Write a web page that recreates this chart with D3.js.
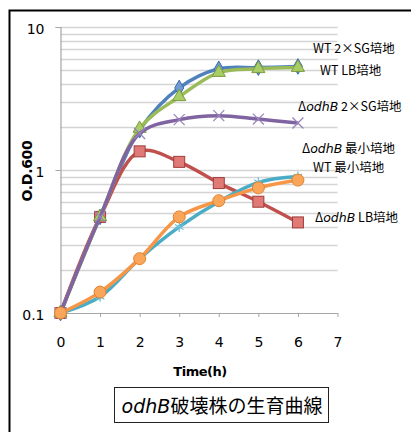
<!DOCTYPE html>
<html><head><meta charset="utf-8">
<script src="https://cdn.jsdelivr.net/npm/d3@7"></script>
<style>body{margin:0;background:#fff}svg{display:block}</style>
</head><body>
<script>
const times = [0,1,2,3,4,5,6];
const wt2sg = [0.1,0.47,1.9,3.75,5.1,5.2,5.3];
const dLB   = [0.1,0.47,1.35,1.14,0.81,0.6,0.43];
const wtLB  = [0.1,0.47,1.95,3.25,4.8,5.1,5.2];
const d2sg  = [0.1,0.47,1.8,2.25,2.4,2.27,2.13];
const wtMin = [0.1,0.13,0.24,0.4,0.6,0.82,0.9];
const dMin  = [0.1,0.14,0.24,0.47,0.61,0.75,0.85];
const xTicks = [0,1,2,3,4,5,6,7];
const yTicks = [0.1,1,10];
const yTickLabels = ["0.1","1","10"];

const W=411,H=432;
const svg=d3.select("body").append("svg").attr("width",W).attr("height",H);
svg.append("rect").attr("width",W).attr("height",H).attr("fill","#fff");
svg.append("rect").attr("x",9.5).attr("y",10.5).attr("width",430).attr("height",440)
  .attr("fill","none").attr("stroke","#000").attr("stroke-width",2);

const x=d3.scaleLinear().domain([0,7]).range([60.5,337.5]);
const y=d3.scaleLog().domain([0.1,10]).range([313,27]);

// gridlines
const grid=[];
[0.1,1].forEach(d=>{for(let k=1;k<=10;k++){grid.push(d*k);}});
const gridVals=Array.from(new Set(grid.map(v=>+v.toFixed(3)))).filter(v=>v>0.1);
svg.append("g").selectAll("line").data(gridVals).join("line")
  .attr("x1",x(0)).attr("x2",x(7)).attr("y1",d=>Math.round(y(d))+0.5).attr("y2",d=>Math.round(y(d))+0.5)
  .attr("stroke","#d4d4d4").attr("stroke-width",1.5);

// y axis
const yAxis=d3.axisLeft(y).tickValues(yTicks).tickFormat((d,i)=>yTickLabels[i]).tickSize(5).tickPadding(11);
const gy=svg.append("g").attr("transform",`translate(${x(0)},0)`).call(yAxis);
gy.select(".domain").attr("stroke","#a6a6a6").attr("stroke-width",1.2);
gy.selectAll(".tick line").attr("stroke","#a6a6a6");
gy.selectAll("text").attr("font-family","DejaVu Sans").attr("font-size",14).attr("fill","#000").attr("dy","0.45em");

// x axis
const xAxis=d3.axisBottom(x).tickValues(xTicks).tickFormat(d3.format("d")).tickSize(4).tickSizeOuter(0).tickPadding(20);
const gx=svg.append("g").attr("transform",`translate(0,${y(0.1)})`).call(xAxis);
gx.select(".domain").attr("stroke","#a6a6a6").attr("stroke-width",1.2);
gx.selectAll(".tick line").attr("stroke","#a6a6a6");
gx.selectAll("text").attr("font-family","DejaVu Sans").attr("font-size",14).attr("fill","#000");

// axis titles
svg.append("text").attr("x",200).attr("y",376).attr("text-anchor","middle")
  .attr("font-family","DejaVu Sans").attr("font-weight","bold").attr("font-size",13).attr("letter-spacing",-0.5).text("Time(h)");
svg.append("text").attr("transform","translate(32,171) rotate(-90)").attr("text-anchor","middle")
  .attr("font-family","DejaVu Sans").attr("font-weight","bold").attr("font-size",14).attr("letter-spacing",-0.3).text("O.D.600");

// series
const series=[
 {vals:wt2sg,color:"#4F81BD",stroke:"#3a6aa3",marker:"diamond"},
 {vals:dLB,color:"#C0504D",stroke:"#a03c39",marker:"square"},
 {vals:wtLB,color:"#9BBB59",stroke:"#7d9c3e",marker:"triangle"},
 {vals:d2sg,color:"#8064A2",stroke:"#8064A2",marker:"x"},
 {vals:wtMin,color:"#4BACC6",stroke:"#4BACC6",marker:"star"},
 {vals:dMin,color:"#F79646",stroke:"#e0822f",marker:"circle"}
];
const line=d3.line().x((d,i)=>x(times[i])).y(d=>y(d)).curve(d3.curveCatmullRom.alpha(0.5));
series.forEach(s=>{
  const g=svg.append("g");
  g.append("path").datum(s.vals).attr("d",line).attr("fill","none").attr("stroke",s.color).attr("stroke-width",3.5).attr("stroke-linejoin","round");
  const pts=g.selectAll("g").data(s.vals).join("g").attr("transform",(d,i)=>`translate(${x(times[i])},${y(d)})`);
  if(s.marker==="square"){
    pts.append("rect").attr("x",-5.5).attr("y",-5.5).attr("width",11).attr("height",11).attr("fill","#e07a76").attr("stroke",s.stroke).attr("stroke-width",1);
  } else if(s.marker==="circle"){
    pts.append("circle").attr("r",6).attr("fill","#f9a65a").attr("stroke",s.stroke).attr("stroke-width",1);
  } else if(s.marker==="diamond"){
    pts.append("path").attr("d",d3.symbol(d3.symbolDiamond,70)()).attr("fill","#6f9bd6").attr("stroke",s.stroke).attr("stroke-width",1);
  } else if(s.marker==="triangle"){
    pts.append("path").attr("d",d3.symbol(d3.symbolTriangle,75)()).attr("fill","#a8cc66").attr("stroke",s.stroke).attr("stroke-width",1);
  } else if(s.marker==="x"){
    pts.append("path").attr("d",d3.symbol(d3.symbolTimes,80)()).attr("fill","none").attr("stroke","#9a85bb").attr("stroke-width",1.3);
  } else if(s.marker==="star"){
    pts.append("path").attr("d",d3.symbol(d3.symbolAsterisk,70)()).attr("fill","none").attr("stroke","#6cc0d8").attr("stroke-width",1.2);
  }
});

// series labels
const labels=[
 {x:313,y:53,parts:[["WT  2×SG培地",false]]},
 {x:320,y:75,parts:[["WT  LB培地",false]]},
 {x:298,y:111,parts:[["Δ",false],["odhB",true],[" 2×SG培地",false]]},
 {x:302,y:153,parts:[["Δ",false],["odhB",true],[" 最小培地",false]]},
 {x:313,y:172,parts:[["WT  最小培地",false]]},
 {x:315,y:222,parts:[["Δ",false],["odhB",true],[" LB培地",false]]}
];
labels.forEach(l=>{
  const t=svg.append("text").attr("x",l.x).attr("y",l.y).attr("font-family","'Noto Sans CJK JP'").attr("font-size",12.5).attr("fill","#000");
  l.parts.forEach(p=>t.append("tspan").attr("font-style",p[1]?"italic":"normal").attr("font-family",p[1]?"DejaVu Sans":null).text(p[0]));
});

// title box
svg.append("rect").attr("x",114.5).attr("y",387.5).attr("width",214).attr("height",35).attr("fill","#fff").attr("stroke","#222").attr("stroke-width",1);
const tt=svg.append("text").attr("x",222).attr("y",413).attr("text-anchor","middle").attr("font-family","'Noto Sans CJK JP'").attr("font-size",19);
tt.append("tspan").attr("font-style","italic").attr("font-family","DejaVu Sans").text("odhB");
tt.append("tspan").text("破壊株の生育曲線");
</script>
</body></html>
